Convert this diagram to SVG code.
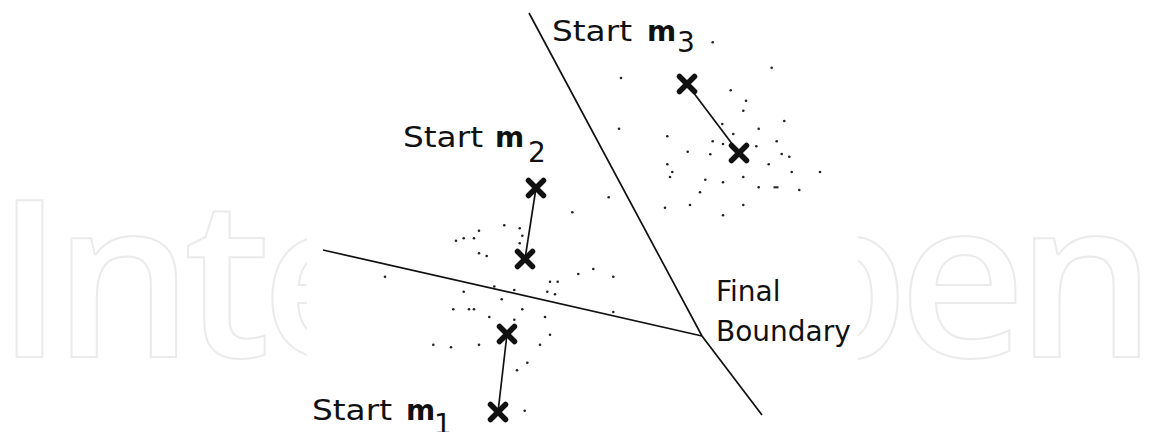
<svg xmlns="http://www.w3.org/2000/svg" width="1150" height="432" viewBox="0 0 1150 432">
<style>
.wm{font-family:"Open Sans",sans-serif;font-weight:600;font-size:220px;fill:none;stroke:#ebebeb;stroke-width:2}
.lbl{font-family:"DejaVu Sans",sans-serif;font-size:28px;fill:#111}
.b{font-weight:bold}
.bnd{stroke:#111;stroke-width:1.7;fill:none}
.con{stroke:#111;stroke-width:1.7;fill:none}
.x{stroke:#111;stroke-width:5.5;stroke-linecap:round;fill:none}
.d{fill:#222}
</style>
<defs>
<path id="xm" d="M-7.5,-7.5 L7.5,7.5 M7.5,-7.5 L-7.5,7.5"/>
</defs>
<rect width="1150" height="432" fill="#fff"/>
<g id="watermark">
<text class="wm" x="-4" y="357" textLength="1160" lengthAdjust="spacing">IntechOpen</text>
<rect x="307" y="0" width="551" height="432" fill="#fff"/>
</g>
<g id="boundaries">
<polyline class="bnd" points="529,13 702,336 762,415"/>
<line class="bnd" x1="323" y1="250" x2="702" y2="336"/>
</g>
<g id="data-points" class="d">
<circle cx="712.7" cy="42.3" r="1.3"/><circle cx="771.7" cy="67.7" r="1.3"/><circle cx="621" cy="78" r="1.3"/>
<circle cx="730.7" cy="90.3" r="1.3"/><circle cx="746" cy="100.7" r="1.3"/><circle cx="743.3" cy="110.7" r="1.3"/>
<circle cx="784.3" cy="121" r="1.3"/><circle cx="722.3" cy="124" r="1.3"/><circle cx="619" cy="128.7" r="1.3"/>
<circle cx="758.7" cy="128.7" r="1.3"/><circle cx="667.3" cy="136.3" r="1.3"/><circle cx="733.3" cy="134" r="1.3"/>
<circle cx="712.7" cy="141.3" r="1.3"/><circle cx="723" cy="144" r="1.3"/><circle cx="776.7" cy="141.3" r="1.3"/>
<circle cx="756.3" cy="146.3" r="1.3"/><circle cx="687.7" cy="151.7" r="1.3"/><circle cx="710.3" cy="154.3" r="1.3"/>
<circle cx="781.7" cy="154" r="1.3"/><circle cx="789.3" cy="156.7" r="1.3"/><circle cx="768.7" cy="164.3" r="1.3"/>
<circle cx="667.3" cy="164.3" r="1.3"/><circle cx="672.3" cy="172" r="1.3"/><circle cx="670" cy="177" r="1.3"/>
<circle cx="791.7" cy="172" r="1.3"/><circle cx="820" cy="172" r="1.3"/><circle cx="705.3" cy="179.7" r="1.3"/>
<circle cx="723" cy="182.3" r="1.3"/><circle cx="743.3" cy="177" r="1.3"/><circle cx="758.7" cy="187.3" r="1.3"/>
<rect x="773.5" y="186.3" width="5" height="2"/><circle cx="799.3" cy="190" r="1.3"/><circle cx="700" cy="192.3" r="1.3"/>
<circle cx="608.7" cy="197.3" r="1.3"/><circle cx="572.3" cy="212.3" r="1.3"/><circle cx="665" cy="207.7" r="1.3"/>
<circle cx="690" cy="205" r="1.3"/><circle cx="743.3" cy="205" r="1.3"/><circle cx="723" cy="215.3" r="1.3"/>
<circle cx="504.3" cy="225.3" r="1.3"/><circle cx="519.7" cy="228.3" r="1.3"/><circle cx="479" cy="230.7" r="1.3"/>
<circle cx="522.3" cy="235.7" r="1.3"/><circle cx="463.7" cy="238.3" r="1.3"/><circle cx="474" cy="238.3" r="1.3"/>
<circle cx="456" cy="240.7" r="1.3"/><circle cx="519.7" cy="243.3" r="1.3"/><circle cx="479" cy="253.3" r="1.3"/>
<circle cx="486.7" cy="256" r="1.3"/><circle cx="385" cy="276.7" r="1.3"/><circle cx="578.3" cy="274" r="1.3"/>
<circle cx="593.3" cy="269" r="1.3"/><circle cx="613.3" cy="276.7" r="1.3"/><circle cx="550" cy="281.7" r="1.3"/>
<circle cx="557.7" cy="281.7" r="1.3"/><circle cx="463.7" cy="291.7" r="1.3"/><circle cx="494.3" cy="286.5" r="1.3"/>
<circle cx="514.3" cy="290" r="1.3"/><circle cx="547.3" cy="291.7" r="1.3"/><circle cx="555" cy="294.3" r="1.3"/>
<circle cx="501.7" cy="299.3" r="1.3"/><circle cx="453.3" cy="309.3" r="1.3"/><circle cx="469" cy="309.3" r="1.3"/>
<circle cx="474" cy="309.3" r="1.3"/><circle cx="522.3" cy="309.3" r="1.3"/><circle cx="613.3" cy="312" r="1.3"/>
<circle cx="489.3" cy="317" r="1.3"/><circle cx="514.3" cy="319.7" r="1.3"/><circle cx="545" cy="317" r="1.3"/>
<circle cx="550" cy="334.7" r="1.3"/><circle cx="433.3" cy="344.7" r="1.3"/><circle cx="451" cy="347.3" r="1.3"/>
<circle cx="479" cy="344.7" r="1.3"/><circle cx="540" cy="344.7" r="1.3"/><circle cx="527.3" cy="362.7" r="1.3"/>
<circle cx="517" cy="370.3" r="1.3"/><circle cx="524.7" cy="410.7" r="1.3"/>
</g>
<g id="connectors">
<line class="con" x1="687" y1="84" x2="739" y2="153"/>
<line class="con" x1="536" y1="188" x2="525" y2="259"/>
<line class="con" x1="507" y1="334" x2="498" y2="412"/>
</g>
<g id="m3-start"><use href="#xm" class="x" x="687" y="84"/></g>
<g id="m3-final"><use href="#xm" class="x" x="739" y="153"/></g>
<g id="m2-start"><use href="#xm" class="x" x="536" y="188"/></g>
<g id="m2-final"><use href="#xm" class="x" x="525" y="259"/></g>
<g id="m1-final"><use href="#xm" class="x" x="507" y="334"/></g>
<g id="m1-start"><use href="#xm" class="x" x="498" y="412"/></g>
<g id="labels">
<text class="lbl" x="552" y="41"><tspan textLength="80" lengthAdjust="spacingAndGlyphs">Start</tspan> <tspan class="b" x="647">m</tspan><tspan x="677" dy="11">3</tspan></text>
<text class="lbl" x="403" y="147"><tspan textLength="80" lengthAdjust="spacingAndGlyphs">Start</tspan> <tspan class="b" x="495">m</tspan><tspan x="528" dy="15">2</tspan></text>
<text class="lbl" x="312" y="420"><tspan textLength="80" lengthAdjust="spacingAndGlyphs">Start</tspan> <tspan class="b" x="406">m</tspan><tspan x="434" dy="14">1</tspan></text>
<text class="lbl" x="716" y="301">Final</text>
<text class="lbl" x="716" y="341">Boundary</text>
</g>
</svg>
